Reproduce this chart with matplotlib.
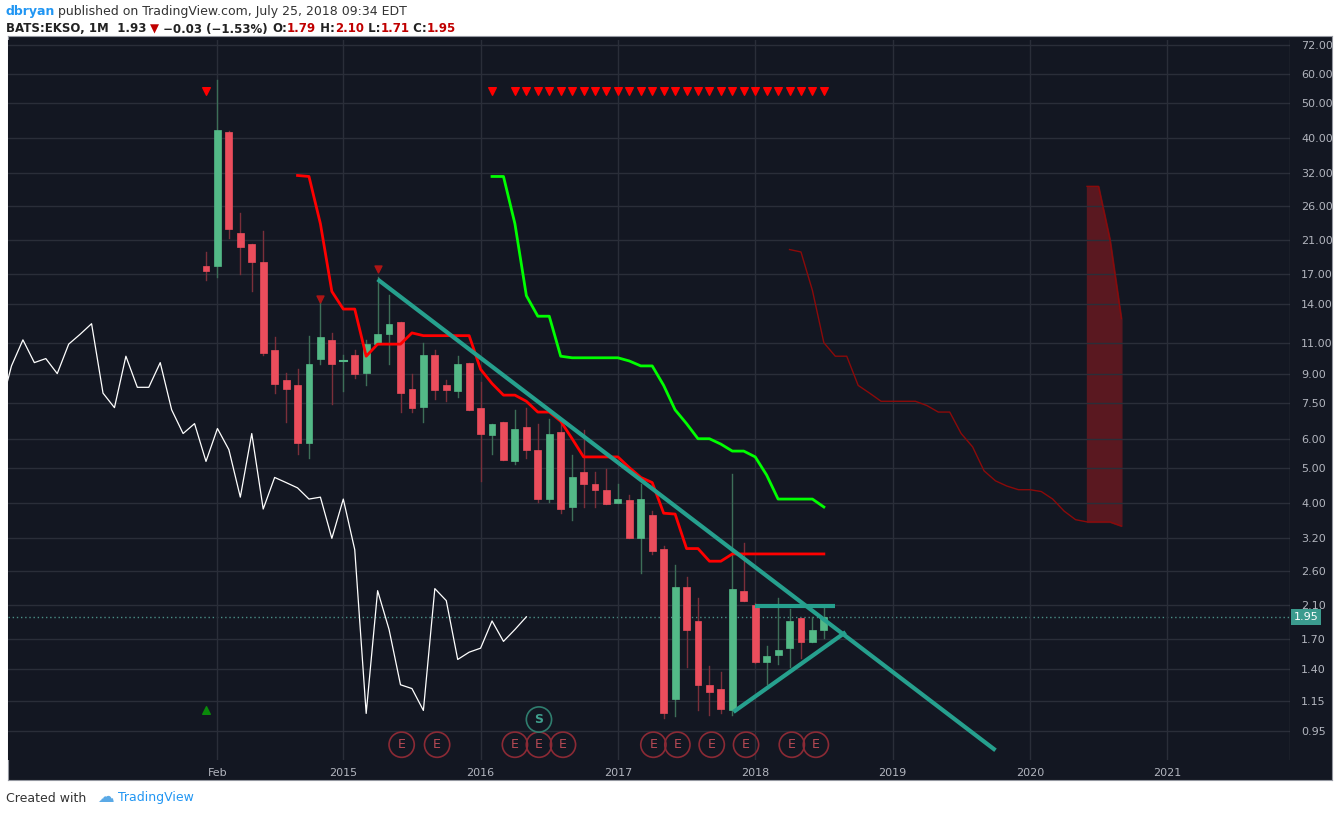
import numpy as np
import matplotlib.pyplot as plt
from matplotlib.patches import Rectangle

# monthly candles, Jan 2014 .. Jul 2018
opens = [17.8, 17.9, 41.5, 22.0, 20.5, 18.3, 10.5, 8.7, 8.4, 5.85, 9.95, 11.2, 9.8, 10.2, 9.1, 10.9,
         11.6, 12.5, 8.2, 7.35, 10.2, 8.4, 8.1, 9.7, 7.3, 6.15, 6.65, 5.2, 6.45, 5.6, 4.1, 6.25,
         3.9, 4.85, 4.5, 4.35, 4.0, 4.07, 3.2, 3.7, 3.0, 1.16, 2.35, 1.9, 1.27, 1.24, 1.08, 2.3,
         2.1, 1.47, 1.53, 1.6, 1.93, 1.66, 1.79]
highs = [19.5, 57.7, 41.8, 25.0, 20.5, 22.2, 11.4, 9.1, 9.3, 11.5, 14.3, 11.7, 10.2, 10.5, 11.2, 16.7,
         14.9, 12.5, 9.05, 11.0, 10.5, 8.7, 10.1, 9.7, 8.6, 6.6, 6.65, 7.2, 7.3, 6.6, 6.8, 6.6,
         5.4, 6.35, 4.85, 4.95, 4.5, 4.2, 4.5, 3.8, 3.05, 2.7, 2.5, 2.2, 1.43, 1.38, 4.8, 3.1,
         2.13, 1.62, 2.2, 2.05, 1.93, 1.95, 2.1]
lows = [16.3, 16.6, 21.3, 17.0, 15.2, 10.2, 8.0, 6.65, 5.45, 5.3, 9.6, 7.45, 8.1, 8.8, 8.4, 10.9,
        9.6, 7.1, 7.1, 6.65, 7.7, 7.6, 7.8, 7.2, 4.6, 5.45, 5.25, 5.1, 5.3, 4.03, 4.03, 3.75,
        3.6, 3.9, 3.9, 3.97, 4.0, 3.2, 2.57, 2.9, 1.03, 1.04, 1.42, 1.08, 1.05, 1.06, 1.05, 2.15,
        1.46, 1.28, 1.45, 1.42, 1.5, 1.66, 1.71]
closes = [17.3, 42.0, 22.5, 20.1, 18.3, 10.3, 8.5, 8.2, 5.85, 9.6, 11.4, 9.6, 9.85, 9.05, 10.9, 11.6,
          12.4, 8.0, 7.3, 10.2, 8.15, 8.15, 9.6, 7.2, 6.2, 6.6, 5.25, 6.4, 5.6, 4.1, 6.2, 3.85,
          4.7, 4.5, 4.35, 3.97, 4.1, 3.2, 4.1, 2.95, 1.06, 2.35, 1.8, 1.27, 1.21, 1.09, 2.33, 2.15,
          1.47, 1.52, 1.58, 1.9, 1.66, 1.8, 1.95]

# red stepped line, from Sep 2014
red_start = 8
red_line = [31.6, 31.4, 23.3, 15.2, 13.6, 13.6, 10.1, 10.9, 10.9, 10.9, 11.7, 11.5, 11.5, 11.5, 11.5, 11.5,
            9.3, 8.5, 7.9, 7.9, 7.6, 7.1, 7.1, 6.7, 6.0, 5.35, 5.35, 5.35, 5.35, 5.0, 4.7, 4.55,
            3.75, 3.73, 3.0, 3.0, 2.77, 2.77, 2.9, 2.9, 2.9, 2.9, 2.9, 2.9, 2.9, 2.9, 2.9]
# green line, from Feb 2016
green_start = 25
green_line = [31.4, 31.4, 23.3, 14.8, 13.0, 13.0, 10.1, 10.0, 10.0, 10.0, 10.0, 10.0, 9.8, 9.5, 9.5,
              8.4, 7.2, 6.6, 6.0, 6.0, 5.8, 5.55, 5.55, 5.35, 4.77, 4.1, 4.1, 4.1, 4.1, 3.9]
# projected dark red line, from Apr 2018
proj_start = 51
proj_line = [19.8, 19.5, 15.3, 11.0, 10.1, 10.1, 8.4, 8.0, 7.6, 7.6, 7.6, 7.6, 7.4, 7.1, 7.1,
             6.2, 5.7, 4.9, 4.6, 4.45, 4.35, 4.35, 4.3, 4.1, 3.8, 3.6, 3.55, 3.55, 3.55, 3.46]
cloud_start = 77
cloud_top = [29.5, 29.5, 21.1, 12.8]
cloud_bottom = [3.55, 3.55, 3.55, 3.46]
# white comparison line, from Jul 2012
white_start = -18
white_line = [7.2, 9.5, 11.2, 9.7, 9.95, 9.05, 10.9, 11.6, 12.4, 8.0, 7.3, 10.1, 8.3, 8.3, 9.7, 7.2,
              6.2, 6.6, 5.2, 6.4, 5.6, 4.15, 6.2, 3.85, 4.7, 4.55, 4.4, 4.1, 4.15, 3.2, 4.1, 2.98,
              1.06, 2.3, 1.8, 1.27, 1.24, 1.08, 2.33, 2.16, 1.49, 1.56, 1.6, 1.9, 1.67, 1.8, 1.95]

down_trend = ([15.0, 69.0], [16.4, 0.84])
up_trend = ([46.1, 55.9], [1.07, 1.77])
resist = ([48.0, 55.0], [2.09, 2.09])

top_marks = [0, 25] + list(range(27, 55))
mid_marks = [(10, 14.5), (15, 17.5)]
earnings = [17.1, 20.2, 27.0, 29.1, 31.2, 39.1, 41.2, 44.2, 47.2, 51.2, 53.3]
split_month = 29.1

price_ticks = [0.7, 0.95, 1.15, 1.4, 1.7, 2.1, 2.6, 3.2, 4.0, 5.0, 6.0, 7.5, 9.0, 11.0, 14.0, 17.0,
               21.0, 26.0, 32.0, 40.0, 50.0, 60.0, 72.0]
year_ticks = [2014 + 1 / 12, 2015, 2016, 2017, 2018, 2019, 2020, 2021]
year_labels = ["Feb", "2015", "2016", "2017", "2018", "2019", "2020", "2021"]

BG = "#131722"
GRID = "#2a2e39"
UP = "#53b987"
DN = "#eb4d5c"
TEAL = "#26a08e"


def t(i):
    return 2014 + np.asarray(i, dtype=float) / 12


W, H = 1339, 816
fig = plt.figure(figsize=(W / 100, H / 100), dpi=100, facecolor="white")
bg = fig.add_axes([8 / W, 36 / H, 1324 / W, 744 / H])
bg.set_facecolor(BG)
bg.set_xticks([])
bg.set_yticks([])
for s in bg.spines.values():
    s.set_color("#9598a1")
    s.set_linewidth(0.8)

ax = fig.add_axes([8 / W, 56 / H, 1282 / W, 720 / H])
ax.set_facecolor(BG)
ax.set_yscale("log")
ax.set_yticks(price_ticks)
ax.set_yticklabels(["%.2f" % p for p in price_ticks])
ax.yaxis.set_minor_locator(plt.NullLocator())
ax.yaxis.tick_right()
ax.set_xticks(year_ticks)
ax.set_xticklabels(year_labels)
ax.set_ylim(0.79, 74.3)
ax.set_xlim(2012.558, 2021.895)
ax.tick_params(colors="#b2b5be", labelsize=8, length=0, pad=6)
ax.tick_params(axis="y", pad=8)
ax.grid(True, color=GRID, lw=1)
for s in ax.spines.values():
    s.set_visible(False)
ax.axvline(2021.895, color="#9598a1", lw=0.8)

# candles
bw = 0.05
for i, (o, h, l, c) in enumerate(zip(opens, highs, lows, closes)):
    x = t(i)
    col = UP if c >= o else DN
    wc = "#3d6e58" if c >= o else "#7a2f3a"
    ax.plot([x, x], [l, h], color=wc, lw=1, zorder=3)
    lo, hi = min(o, c), max(o, c)
    if hi / lo < 1.01:
        ax.plot([x - bw / 2, x + bw / 2], [o, o], color=col, lw=1.5, zorder=4)
    else:
        ax.add_patch(Rectangle((x - bw / 2, lo), bw, hi - lo, facecolor=col, edgecolor=col, lw=0.5, zorder=4))

ax.plot(t(np.arange(len(white_line)) + white_start), white_line, color="white", lw=0.9, zorder=2)
ax.plot(t(np.arange(len(red_line)) + red_start), red_line, color="#ff0000", lw=2, zorder=5)
ax.plot(t(np.arange(len(green_line)) + green_start), green_line, color="#00ff00", lw=2, zorder=5)
ax.plot(t(np.arange(len(proj_line)) + proj_start), proj_line, color="#8b0a0a", lw=1, zorder=2)
cx = t(np.arange(len(cloud_top)) + cloud_start)
ax.fill_between(cx, cloud_bottom, cloud_top, color="#5a1820", zorder=1)
ax.plot(cx, cloud_top, color="#8b0a0a", lw=1, zorder=2)

for xs, ys in (down_trend, up_trend, resist):
    ax.plot(t(xs), ys, color=TEAL, lw=3, zorder=6, solid_capstyle="butt")

ax.axhline(closes[-1], color="#4a8f86", lw=1, ls=(0, (1, 2)), zorder=1)
ax.text(1.003, closes[-1], "%.2f" % closes[-1], transform=ax.get_yaxis_transform(), va="center",
        ha="left", fontsize=8, color="white", bbox=dict(facecolor="#3b9b8e", edgecolor="none", pad=2))

ax.scatter(t(top_marks), [53.7] * len(top_marks), marker="v", color="#ff0000", s=30, zorder=7)
for i, p in mid_marks:
    ax.scatter(t(i), p, marker="v", color="#b01515", s=25, zorder=7)
ax.scatter(t(0), 1.08, marker="^", color="#0a8a0a", s=30, zorder=7)

for i in earnings:
    ax.scatter(t(i), 0.87, s=330, facecolor="none", edgecolor="#8b2a35", lw=1.2, zorder=7)
    ax.text(t(i), 0.87, "E", color="#b84a55", fontsize=9, ha="center", va="center", zorder=8)
ax.scatter(t(split_month), 1.02, s=330, facecolor="none", edgecolor="#2f7d6e", lw=1.2, zorder=7)
ax.text(t(split_month), 1.02, "S", color="#3fa08e", fontsize=9, ha="center", va="center",
        fontweight="bold", zorder=8)

fig.text(6 / W, 1 - 11 / H, "dbryan", color="#2196f3", fontsize=9, fontweight="bold", va="center")
fig.text(58 / W, 1 - 11 / H, "published on TradingView.com, July 25, 2018 09:34 EDT",
         color="#333333", fontsize=9, va="center")
hx = 6
for s, c in [("BATS:EKSO, 1M", "#222222"), ("  1.93 ", "#222222"), ("\u25bc", "#c00000"),
             (" \u22120.03 (\u22121.53%) ", "#222222"), ("O:", "#222222"), ("1.79", "#c00000"),
             (" H:", "#222222"), ("2.10", "#c00000"), (" L:", "#222222"), ("1.71", "#c00000"),
             (" C:", "#222222"), ("1.95", "#c00000")]:
    tx = fig.text(hx / W, 1 - 29 / H, s, color=c, fontsize=8.5, fontweight="bold", va="center")
    fig.canvas.draw()
    hx += tx.get_window_extent().width
fig.text(6 / W, 1 - 798 / H, "Created with", color="#333333", fontsize=9, va="center")
fig.text(118 / W, 1 - 798 / H, "TradingView", color="#2196f3", fontsize=9, va="center")
fig.text(97 / W, 1 - 797 / H, "\u2601", color="#5aa9e6", fontsize=12, va="center")

fig.savefig("out.png", dpi=100, facecolor="white")
